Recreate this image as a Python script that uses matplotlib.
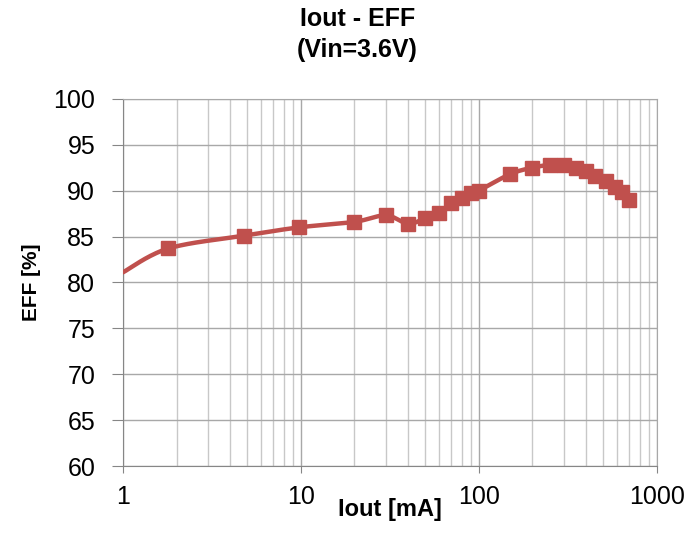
import numpy as np
import matplotlib
matplotlib.use("Agg")
import matplotlib.pyplot as plt
from matplotlib.ticker import LogLocator, FixedLocator, NullFormatter

plt.rcParams['font.family'] = ['Liberation Sans', 'DejaVu Sans']

# Efficiency vs output current (Vin = 3.6 V)
start_iout = 1.0
start_eff = 81.1
iout_ma = [1.8, 4.8, 9.8, 20, 30, 40, 50, 60, 70, 80, 90, 100, 150, 200, 250,
           300, 350, 400, 450, 520, 580, 640, 700]
eff_pct = [83.7, 85.1, 86.0, 86.6, 87.3, 86.4, 87.0, 87.6, 88.6, 89.2, 89.7, 90.0,
           91.8, 92.5, 92.8, 92.8, 92.5, 92.1, 91.6, 91.0, 90.4, 89.9, 89.0]
x_ticks = [1, 10, 100, 1000]
x_ticklabels = ['1', '10', '100', '1000']
y_ticks = [60, 65, 70, 75, 80, 85, 90, 95, 100]

LINE_COLOR = '#C0504D'


def smooth_curve(xs, ys, n=30):
    """Excel-style smoothed line: cubic Bezier segments, log-x space."""
    px = np.log10(np.asarray(xs, dtype=float))
    py = np.asarray(ys, dtype=float)
    out_x, out_y = [], []
    t = np.linspace(0, 1, n)
    for i in range(len(px) - 1):
        i0 = max(i - 1, 0)
        i3 = min(i + 2, len(px) - 1)
        c1x = px[i] + (px[i + 1] - px[i0]) / 6
        c1y = py[i] + (py[i + 1] - py[i0]) / 6
        c2x = px[i + 1] - (px[i3] - px[i]) / 6
        c2y = py[i + 1] - (py[i3] - py[i]) / 6
        bx = ((1 - t) ** 3 * px[i] + 3 * (1 - t) ** 2 * t * c1x
              + 3 * (1 - t) * t ** 2 * c2x + t ** 3 * px[i + 1])
        by = ((1 - t) ** 3 * py[i] + 3 * (1 - t) ** 2 * t * c1y
              + 3 * (1 - t) * t ** 2 * c2y + t ** 3 * py[i + 1])
        out_x.extend(bx)
        out_y.extend(by)
    return 10 ** np.array(out_x), np.array(out_y)


fig = plt.figure(figsize=(6.87, 5.40), dpi=100)
ax = fig.add_axes([0.179, 0.137, 0.777, 0.680])

line_x = [start_iout] + iout_ma
line_y = [start_eff] + eff_pct
sx, sy = smooth_curve(line_x, line_y)
ax.plot(sx, sy, color=LINE_COLOR, linewidth=3.2, solid_capstyle='round', zorder=3)
ax.plot(iout_ma, eff_pct, linestyle='none', marker='s', markersize=10.5,
        color=LINE_COLOR, markeredgecolor=LINE_COLOR, zorder=4)

ax.set_xscale('log')
ax.set_xlim(1, 1000)
ax.set_ylim(60, 100)
ax.xaxis.set_major_locator(FixedLocator(x_ticks))
ax.set_xticklabels(x_ticklabels)
ax.xaxis.set_minor_locator(LogLocator(base=10, subs=np.arange(2, 10)))
ax.xaxis.set_minor_formatter(NullFormatter())
ax.set_yticks(y_ticks)

ax.grid(which='major', axis='both', color='#A8A8A8', linewidth=1.0)
ax.grid(which='minor', axis='x', color='#C8C8C8', linewidth=1.0)
ax.set_axisbelow(True)

for side in ['top', 'right']:
    ax.spines[side].set_color('#A8A8A8')
for side in ['left', 'bottom']:
    ax.spines[side].set_color('#868686')
ax.tick_params(axis='both', which='major', direction='out', color='#868686',
               labelsize=18)
ax.tick_params(axis='y', length=8, pad=12)
ax.tick_params(axis='x', length=5, pad=9)
ax.tick_params(axis='x', which='minor', length=0)

ax.set_xlabel('Iout [mA]', fontsize=17, fontweight='bold', labelpad=-8)
ax.set_ylabel('EFF [%]', fontsize=15, fontweight='bold', labelpad=9)
fig.text(0.52, 0.965, 'Iout - EFF', ha='center', va='center',
         fontsize=18, fontweight='bold')
fig.text(0.52, 0.907, '(Vin=3.6V)', ha='center', va='center',
         fontsize=18, fontweight='bold')

fig.savefig('out.png', dpi=100)
